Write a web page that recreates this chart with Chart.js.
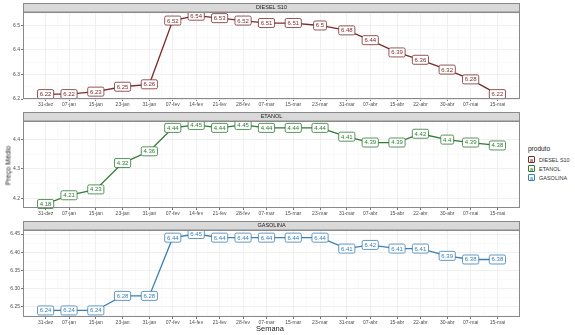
<!DOCTYPE html>
<html><head><meta charset="utf-8">
<script src="https://cdn.jsdelivr.net/npm/chart.js@4"></script>
<style>
html,body{margin:0;padding:0;background:#fff;width:575px;height:335px;overflow:hidden;font-family:"Liberation Sans",Arial,sans-serif;}
.pan{position:absolute;left:0;}
#ytitle{position:absolute;left:-20px;top:162px;width:56px;text-align:center;font-size:7px;color:#222;transform:rotate(-90deg);transform-origin:center center;}
#xtitle{position:absolute;left:240px;top:324px;width:60px;text-align:center;font-size:7.5px;color:#222;}
#legend{position:absolute;left:528px;top:145px;font-size:5.5px;color:#333;}
#legend .t{font-size:6.5px;margin-bottom:3px;color:#222;}
#legend .it{display:flex;align-items:center;height:9px;}
#legend .k{width:7px;height:7px;border:0.8px solid;border-radius:1px;font-size:6px;line-height:6px;text-align:center;margin-right:4px;box-sizing:border-box;background:#fff;}
</style></head>
<body>
<div class="pan" style="top:0"><canvas id="c0" width="525" height="109"></canvas></div>
<div class="pan" style="top:109px"><canvas id="c1" width="525" height="109"></canvas></div>
<div class="pan" style="top:218px"><canvas id="c2" width="525" height="109"></canvas></div>
<div id="ytitle">Preço Médio</div>
<div id="xtitle">Semana</div>
<div id="legend">
 <div class="t">produto</div>
 <div class="it"><div class="k" style="border-color:#7B2B2B;color:#7B2B2B">a</div>DIESEL S10</div>
 <div class="it"><div class="k" style="border-color:#2F7A34;color:#2F7A34">a</div>ETANOL</div>
 <div class="it"><div class="k" style="border-color:#3A7FB5;color:#3A7FB5">a</div>GASOLINA</div>
</div>
<script>
const weekLabels = ['31-dez','07-jan','15-jan','23-jan','31-jan','07-fev','14-fev','21-fev','28-fev','07-mar','15-mar','23-mar','31-mar','07-abr','15-abr','22-abr','30-abr','07-mai','15-mai'];
const weekDates = ['2021-12-31','2022-01-07','2022-01-15','2022-01-23','2022-01-31','2022-02-07','2022-02-14','2022-02-21','2022-02-28','2022-03-07','2022-03-15','2022-03-23','2022-03-31','2022-04-07','2022-04-15','2022-04-22','2022-04-30','2022-05-07','2022-05-15'];
const products = ['DIESEL S10','ETANOL','GASOLINA'];
const diesel = [6.22,6.22,6.23,6.25,6.26,6.52,6.54,6.53,6.52,6.51,6.51,6.5,6.48,6.44,6.39,6.36,6.32,6.28,6.22];
const etanol = [4.18,4.21,4.23,4.32,4.36,4.44,4.45,4.44,4.45,4.44,4.44,4.44,4.41,4.39,4.39,4.42,4.4,4.39,4.38];
const gasolina = [6.24,6.24,6.24,6.28,6.28,6.44,6.45,6.44,6.44,6.44,6.44,6.44,6.41,6.42,6.41,6.41,6.39,6.38,6.38];
const dieselTicks = [6.2,6.3,6.4,6.5];
const etanolTicks = [4.2,4.3,4.4];
const gasolinaTicks = [6.25,6.30,6.35,6.40,6.45];

const colors = ['#7B2B2B','#2F7A34','#3A7FB5'];
const day0 = Date.parse(weekDates[0]);
const xDays = weekDates.map(d => Math.round((Date.parse(d)-day0)/86400000));
const xSpan = xDays[xDays.length-1]-xDays[0];
const xMin = xDays[0]-0.05*xSpan, xMax = xDays[xDays.length-1]+0.05*xSpan;

const panels = [
 {name:products[0], vals:diesel, ticks:dieselTicks, min:6.2, max:6.555, dec:1},
 {name:products[1], vals:etanol, ticks:etanolTicks, min:4.1665, max:4.4635, dec:1},
 {name:products[2], vals:gasolina, ticks:gasolinaTicks, min:6.222, max:6.461, dec:2},
];

const FONT = '"Liberation Sans", Arial, sans-serif';

function withMinors(major){
  const out=[];
  for(let i=0;i<major.length;i++){
    out.push({value:major[i],major:true});
    if(i<major.length-1) out.push({value:(major[i]+major[i+1])/2,major:false});
  }
  return out;
}

const stripPlugin = {
  id:'strip',
  beforeDraw(chart){
    const {ctx, chartArea:a} = chart;
    ctx.save();
    ctx.fillStyle='#fff';
    ctx.fillRect(a.left,a.top,a.right-a.left,a.bottom-a.top);
    ctx.restore();
  },
  afterDraw(chart, args, opts){
    const {ctx, chartArea:a} = chart;
    ctx.save();
    // panel border
    ctx.strokeStyle='#8a8a8a'; ctx.lineWidth=1;
    ctx.strokeRect(a.left+0.5,a.top+0.5,a.right-a.left-1,a.bottom-a.top-1);
    // strip
    ctx.fillStyle='#D9D9D9';
    ctx.fillRect(a.left,a.top-9,a.right-a.left,9);
    ctx.strokeRect(a.left+0.5,a.top-8.5,a.right-a.left-1,8.5);
    ctx.fillStyle='#1a1a1a';
    ctx.font='5.5px '+FONT;
    ctx.textAlign='center'; ctx.textBaseline='middle';
    ctx.fillText(opts.title,(a.left+a.right)/2,a.top-4.3);
    ctx.restore();
  }
};

const labelPlugin = {
  id:'boxlabels',
  afterDatasetsDraw(chart, args, opts){
    const ctx=chart.ctx;
    const meta=chart.getDatasetMeta(0);
    const ds=chart.data.datasets[0];
    ctx.save();
    ctx.font='6px '+FONT;
    ctx.textAlign='center'; ctx.textBaseline='middle';
    meta.data.forEach((pt,i)=>{
      const v=ds.data[i].y;
      const txt=String(+v.toFixed(2));
      const w=ctx.measureText(txt).width+4.5, h=9;
      const x=pt.x-w/2, y=pt.y-h/2, r=1.5;
      ctx.beginPath();
      ctx.moveTo(x+r,y); ctx.lineTo(x+w-r,y); ctx.quadraticCurveTo(x+w,y,x+w,y+r);
      ctx.lineTo(x+w,y+h-r); ctx.quadraticCurveTo(x+w,y+h,x+w-r,y+h);
      ctx.lineTo(x+r,y+h); ctx.quadraticCurveTo(x,y+h,x,y+h-r);
      ctx.lineTo(x,y+r); ctx.quadraticCurveTo(x,y,x+r,y); ctx.closePath();
      ctx.fillStyle='#fff'; ctx.fill();
      ctx.strokeStyle=opts.color; ctx.lineWidth=0.8; ctx.stroke();
      ctx.fillStyle=opts.color;
      ctx.fillText(txt,pt.x,pt.y+0.3);
    });
    ctx.restore();
  }
};

panels.forEach((p,idx)=>{
  const data = p.vals.map((v,i)=>({x:xDays[i], y:v}));
  const xt = withMinors(xDays);
  const yTicksAll = withMinors(p.ticks);
  // add minor below first / above last if in range
  const step = p.ticks[1]-p.ticks[0];
  if(p.ticks[0]-step/2 >= p.min) yTicksAll.unshift({value:p.ticks[0]-step/2,major:false});
  if(p.ticks[p.ticks.length-1]+step/2 <= p.max) yTicksAll.push({value:p.ticks[p.ticks.length-1]+step/2,major:false});
  new Chart(document.getElementById('c'+idx),{
    type:'line',
    data:{datasets:[{data, borderColor:colors[idx], borderWidth:1.3, pointRadius:0, tension:0, fill:false}]},
    plugins:[stripPlugin,labelPlugin],
    options:{
      responsive:false, animation:false,
      layout:{padding:{top:12,right:5,left:0,bottom:0}},
      plugins:{legend:{display:false}, tooltip:{enabled:false},
        strip:{title:p.name}, boxlabels:{color:colors[idx]}},
      scales:{
        x:{type:'linear', min:xMin, max:xMax,
          afterBuildTicks(s){ s.ticks = xt.map(t=>({value:t.value, major:t.major})); },
          afterFit(s){ s.height=10; },
          border:{display:false},
          grid:{color:c=>c.tick&&c.tick.major?'#EBEBEB':'#F5F5F5', lineWidth:c=>c.tick&&c.tick.major?0.8:0.5,
                tickColor:c=>c.tick&&c.tick.major?'#555':'rgba(0,0,0,0)', tickLength:2, drawTicks:true},
          ticks:{autoSkip:false, maxRotation:0, padding:1, color:'#4D4D4D', font:{size:5, family:FONT},
            callback:(v,i,ticks)=>{ const k=xDays.indexOf(v); return k>=0?weekLabels[k]:''; }}
        },
        y:{min:p.min, max:p.max,
          afterBuildTicks(s){ s.ticks = yTicksAll.map(t=>({value:t.value, major:t.major})); },
          afterFit(s){ s.width=23; },
          border:{display:false},
          grid:{color:c=>c.tick&&c.tick.major?'#EBEBEB':'#F5F5F5', lineWidth:c=>c.tick&&c.tick.major?0.8:0.5,
                tickColor:c=>c.tick&&c.tick.major?'#555':'rgba(0,0,0,0)', tickLength:2},
          ticks:{autoSkip:false, padding:1, color:'#4D4D4D', font:{size:5, family:FONT},
            callback:(v)=>{ const k=p.ticks.findIndex(t=>Math.abs(t-v)<1e-9); return k>=0?p.ticks[k].toFixed(p.dec):''; }}
        }
      }
    }
  });
});
</script>
</body></html>
